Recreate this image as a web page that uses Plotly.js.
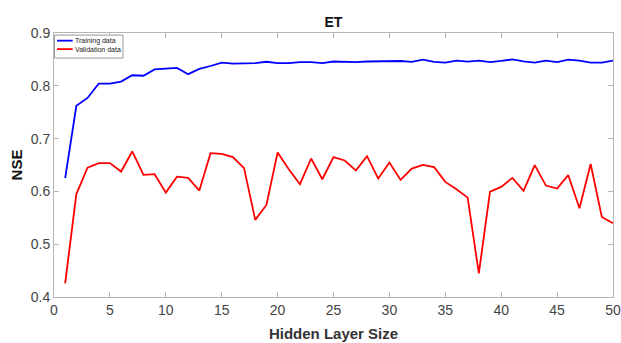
<!DOCTYPE html>
<html>
<head>
<meta charset="utf-8">
<script src="https://cdn.plot.ly/plotly-3.0.1.min.js"></script>
<style>html,body{margin:0;padding:0;background:#fff;}#chart{width:621px;height:343px;}</style>
</head>
<body>
<div id="chart"></div>
<script>
const hiddenLayerSize = [1,2,3,4,5,6,7,8,9,10,11,12,13,14,15,16,17,18,19,20,21,22,23,24,25,26,27,28,29,30,31,32,33,34,35,36,37,38,39,40,41,42,43,44,45,46,47,48,49,50];
const trainingNSE = [0.625,0.762,0.777,0.804,0.804,0.808,0.820,0.819,0.831,0.832,0.834,0.822,0.832,0.8375,0.844,0.842,0.843,0.843,0.8455,0.843,0.843,0.845,0.845,0.843,0.846,0.8455,0.845,0.846,0.846,0.847,0.847,0.8455,0.8495,0.8455,0.8438,0.8476,0.8457,0.8476,0.845,0.847,0.850,0.8463,0.8438,0.8476,0.845,0.8495,0.8476,0.8438,0.8438,0.8476];
const validationNSE = [0.426,0.595,0.645,0.6535,0.6535,0.6376,0.6756,0.6313,0.6326,0.5977,0.628,0.6256,0.6016,0.6725,0.671,0.665,0.644,0.546,0.5744,0.6737,0.642,0.6136,0.6623,0.623,0.665,0.6585,0.6395,0.6668,0.6243,0.6547,0.6218,0.6433,0.6503,0.646,0.618,0.6042,0.5882,0.4448,0.5997,0.6085,0.6256,0.601,0.6497,0.611,0.6054,0.6307,0.568,0.652,0.5516,0.5397];
const seriesNames = ["Training data","Validation data"];
const seriesColors = ["#0000FF","#FF0000"];
const xTicks = [0,5,10,15,20,25,30,35,40,45,50];
const yTicks = [0.4,0.5,0.6,0.7,0.8,0.9];

const font = "Liberation Sans, Arial, sans-serif";
const traces = [
  {x: hiddenLayerSize, y: trainingNSE, name: seriesNames[0], type: "scatter", mode: "lines", line: {color: seriesColors[0], width: 1.8}},
  {x: hiddenLayerSize, y: validationNSE, name: seriesNames[1], type: "scatter", mode: "lines", line: {color: seriesColors[1], width: 1.8}}
];
const axisCommon = {
  showgrid: false, zeroline: false, showline: true, linecolor: "#b5b5b5", linewidth: 1,
  mirror: "ticks", ticks: "inside", ticklen: 5, tickcolor: "#b5b5b5", tickwidth: 1,
  tickfont: {family: font, size: 14, color: "#444"}
};

// compact MATLAB-style legend box (decoration, in paper coordinates)
const legendBox = {x0: 0.001, x1: 0.1234, y0: 0.905, y1: 0.992};
const legendRows = [0.971, 0.939];
const shapes = [{type: "rect", xref: "paper", yref: "paper", x0: legendBox.x0, x1: legendBox.x1, y0: legendBox.y0, y1: legendBox.y1,
  line: {color: "#999", width: 1}, fillcolor: "#fff", layer: "above"}];
const annotations = [];
seriesNames.forEach((name, i) => {
  shapes.push({type: "line", xref: "paper", yref: "paper", x0: 0.0054, x1: 0.0334, y0: legendRows[i], y1: legendRows[i],
    line: {color: seriesColors[i], width: 1.8}, layer: "above"});
  annotations.push({xref: "paper", yref: "paper", x: 0.0345, y: legendRows[i], xanchor: "left", yanchor: "middle",
    text: name, showarrow: false, font: {family: font, size: 7, color: "#222"}, xshift: 0});
});

const layout = {
  width: 621, height: 343,
  margin: {l: 54, r: 8, t: 33, b: 46},
  paper_bgcolor: "#fff", plot_bgcolor: "#fff",
  title: {text: "<b>ET</b>", font: {family: font, size: 14, color: "#111"}, x: 0.537, xanchor: "center", y: 0.935, yanchor: "middle"},
  xaxis: Object.assign({}, axisCommon, {
    range: [0, 50], tickvals: xTicks, ticktext: xTicks.map(String),
    title: {text: "<b>Hidden Layer Size</b>", font: {family: font, size: 15, color: "#333"}, standoff: 11}
  }),
  yaxis: Object.assign({}, axisCommon, {
    range: [0.4, 0.9], tickvals: yTicks, ticktext: yTicks.map(v => v.toFixed(1)),
    title: {text: "<b>NSE</b>", font: {family: font, size: 15, color: "#111"}, standoff: 4}
  }),
  showlegend: false,
  shapes: shapes,
  annotations: annotations
};
Plotly.newPlot("chart", traces, layout, {displayModeBar: false, staticPlot: true});
</script>
</body>
</html>
